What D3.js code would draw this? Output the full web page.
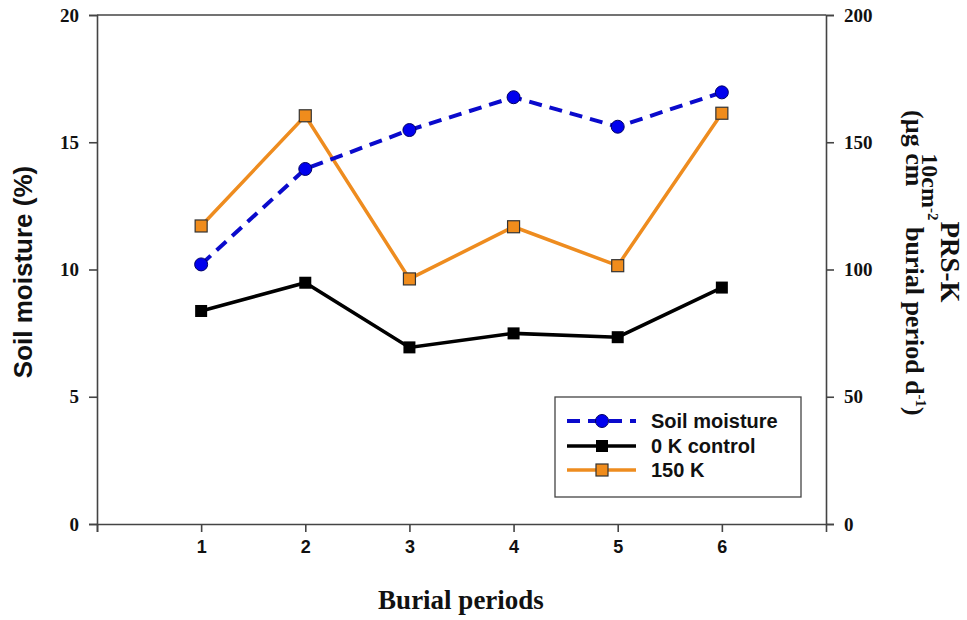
<!DOCTYPE html>
<html>
<head>
<meta charset="utf-8">
<script src="https://cdn.jsdelivr.net/npm/d3@7"></script>
<style>
  body { margin: 0; background: #fff; }
  .serif text { font-family: "Liberation Serif", "Times New Roman", serif; font-weight: bold; }
</style>
</head>
<body>
<div id="chart"></div>
<script>
// data
var periods = [1, 2, 3, 4, 5, 6];
var soilMoisture = [10.2, 13.95, 15.48, 16.77, 15.61, 16.96];   // left axis, %
var control0K = [83.7, 94.8, 69.4, 74.9, 73.4, 92.9];          // right axis
var k150 = [117.1, 160.4, 96.3, 116.8, 101.5, 161.4];          // right axis
var leftTicks = [0, 5, 10, 15, 20];
var rightTicks = [0, 50, 100, 150, 200];
var xTicks = [0, 1, 2, 3, 4, 5, 6];

var svgWidth = 967, svgHeight = 620;
var margins = { top: 15, bottom: 96, left: 97, right: 141 };
var width = svgWidth - margins.left - margins.right;
var height = svgHeight - margins.top - margins.bottom;

var svg = d3.select("#chart").append("svg")
    .attr("width", svgWidth)
    .attr("height", svgHeight);

var chartGroup = svg.append("g")
    .attr("transform", `translate(${margins.left},${margins.top})`);

var xScale = d3.scaleLinear().domain([0, 7]).range([0, width]);
var yLeft = d3.scaleLinear().domain([0, 20]).range([height, 0]);
var yRight = d3.scaleLinear().domain([0, 200]).range([height, 0]);

var axisColor = "#444";

// top frame line
chartGroup.append("line")
    .attr("x1", 0).attr("x2", width)
    .attr("y1", 0).attr("y2", 0)
    .attr("stroke", axisColor).attr("stroke-width", 1.6);

// axes
var xAxis = chartGroup.append("g")
    .attr("transform", `translate(0,${height})`)
    .call(d3.axisBottom(xScale).tickValues(xTicks).tickSize(8).tickPadding(8)
        .tickFormat(d => d === 0 ? "" : d));
xAxis.selectAll("text")
    .style("font-family", "'Liberation Sans', Arial, sans-serif")
    .style("font-weight", "bold")
    .style("font-size", "18px")
    .attr("fill", "#111");

var leftAxis = chartGroup.append("g")
    .attr("class", "serif")
    .call(d3.axisLeft(yLeft).tickValues(leftTicks).tickSize(8).tickPadding(10));
leftAxis.selectAll("text").style("font-size", "19px").attr("fill", "#111");

var rightAxis = chartGroup.append("g")
    .attr("class", "serif")
    .attr("transform", `translate(${width},0)`)
    .call(d3.axisRight(yRight).tickValues(rightTicks).tickSize(8).tickPadding(10));
rightAxis.selectAll("text").style("font-size", "19px").attr("fill", "#111");

[xAxis, leftAxis, rightAxis].forEach(a => {
    a.select(".domain").attr("stroke", axisColor).attr("stroke-width", 1.6);
    a.selectAll(".tick line").attr("stroke", axisColor).attr("stroke-width", 1.6);
});

// lines
var soilLine = d3.line().x((d, i) => xScale(periods[i])).y(d => yLeft(d));
var rightLine = d3.line().x((d, i) => xScale(periods[i])).y(d => yRight(d));

chartGroup.append("path")
    .datum(control0K)
    .attr("d", rightLine)
    .attr("fill", "none")
    .attr("stroke", "#000")
    .attr("stroke-width", 3.5);

chartGroup.append("path")
    .datum(k150)
    .attr("d", rightLine)
    .attr("fill", "none")
    .attr("stroke", "#ee8c1f")
    .attr("stroke-width", 3.5);

chartGroup.append("path")
    .datum(soilMoisture)
    .attr("d", soilLine)
    .attr("fill", "none")
    .attr("stroke", "#0a0acc")
    .attr("stroke-width", 4)
    .attr("stroke-dasharray", "13,8");

// markers
chartGroup.selectAll(".ctrl")
    .data(control0K).enter().append("rect")
    .attr("x", (d, i) => xScale(periods[i]) - 6)
    .attr("y", d => yRight(d) - 6)
    .attr("width", 12).attr("height", 12)
    .attr("fill", "#000");

chartGroup.selectAll(".k150")
    .data(k150).enter().append("rect")
    .attr("x", (d, i) => xScale(periods[i]) - 6)
    .attr("y", d => yRight(d) - 6)
    .attr("width", 12).attr("height", 12)
    .attr("fill", "#f08c1c")
    .attr("stroke", "#333").attr("stroke-width", 1.2);

chartGroup.selectAll(".soil")
    .data(soilMoisture).enter().append("circle")
    .attr("cx", (d, i) => xScale(periods[i]))
    .attr("cy", d => yLeft(d))
    .attr("r", 6.5)
    .attr("fill", "#0000ee")
    .attr("stroke", "#000066").attr("stroke-width", 1);

// legend
var legend = svg.append("g").attr("transform", "translate(555,397)");
legend.append("rect")
    .attr("width", 246).attr("height", 100)
    .attr("fill", "#fff")
    .attr("stroke", "#444").attr("stroke-width", 1.3);

var legendItems = [
    { label: "Soil moisture", color: "#0a0acc", dash: "13,8", marker: "circle", fill: "#0000ee" },
    { label: "0 K control", color: "#000", dash: null, marker: "square", fill: "#000" },
    { label: "150 K", color: "#ee8c1f", dash: null, marker: "square", fill: "#f08c1c" }
];
var rowY = [24, 49, 73];
legendItems.forEach((item, i) => {
    var row = legend.append("g").attr("transform", `translate(0,${rowY[i]})`);
    row.append("line")
        .attr("x1", 12).attr("x2", 81)
        .attr("stroke", item.color)
        .attr("stroke-width", item.marker === "circle" ? 4 : 3.5)
        .attr("stroke-dasharray", item.dash);
    if (item.marker === "circle") {
        row.append("circle").attr("cx", 47).attr("r", 6.5)
            .attr("fill", item.fill).attr("stroke", "#000066");
    } else {
        row.append("rect").attr("x", 41).attr("y", -6).attr("width", 12).attr("height", 12)
            .attr("fill", item.fill)
            .attr("stroke", i === 2 ? "#333" : "none").attr("stroke-width", 1.2);
    }
    row.append("text")
        .attr("x", 96).attr("y", 7)
        .style("font-family", "'Liberation Sans', Arial, sans-serif")
        .style("font-weight", "bold")
        .style("font-size", "20px")
        .attr("fill", "#111")
        .text(item.label);
});

// axis titles
svg.append("text")
    .attr("transform", "translate(32,272) rotate(-90)")
    .style("font-family", "'Liberation Sans', Arial, sans-serif")
    .style("font-weight", "bold")
    .style("font-size", "26px")
    .style("text-anchor", "middle")
    .attr("fill", "#111")
    .text("Soil moisture (%)");

svg.append("text")
    .attr("x", 461).attr("y", 609)
    .style("font-family", "'Liberation Serif', 'Times New Roman', serif")
    .style("font-weight", "bold")
    .style("font-size", "27px")
    .style("text-anchor", "middle")
    .attr("fill", "#111")
    .text("Burial periods");

var rightTitle = svg.append("g").attr("class", "serif");
rightTitle.append("text")
    .attr("transform", "translate(941,262) rotate(90)")
    .style("font-size", "27px")
    .style("text-anchor", "middle")
    .attr("fill", "#111")
    .text("PRS-K");

var sub = rightTitle.append("text")
    .attr("transform", "translate(906,110) rotate(90)")
    .style("font-size", "26px")
    .attr("fill", "#111");
sub.append("tspan").text("(\u00b5g cm");
sub.append("tspan").attr("dx", -33).attr("dy", -16).style("font-size", "24px").text("10cm");
sub.append("tspan").attr("dy", -6).style("font-size", "15px").text("-2");
sub.append("tspan").attr("dy", 22).text(" burial period d");
sub.append("tspan").attr("dy", -10).style("font-size", "15px").text("-1");
sub.append("tspan").attr("dy", 10).text(")");
</script>
</body>
</html>
